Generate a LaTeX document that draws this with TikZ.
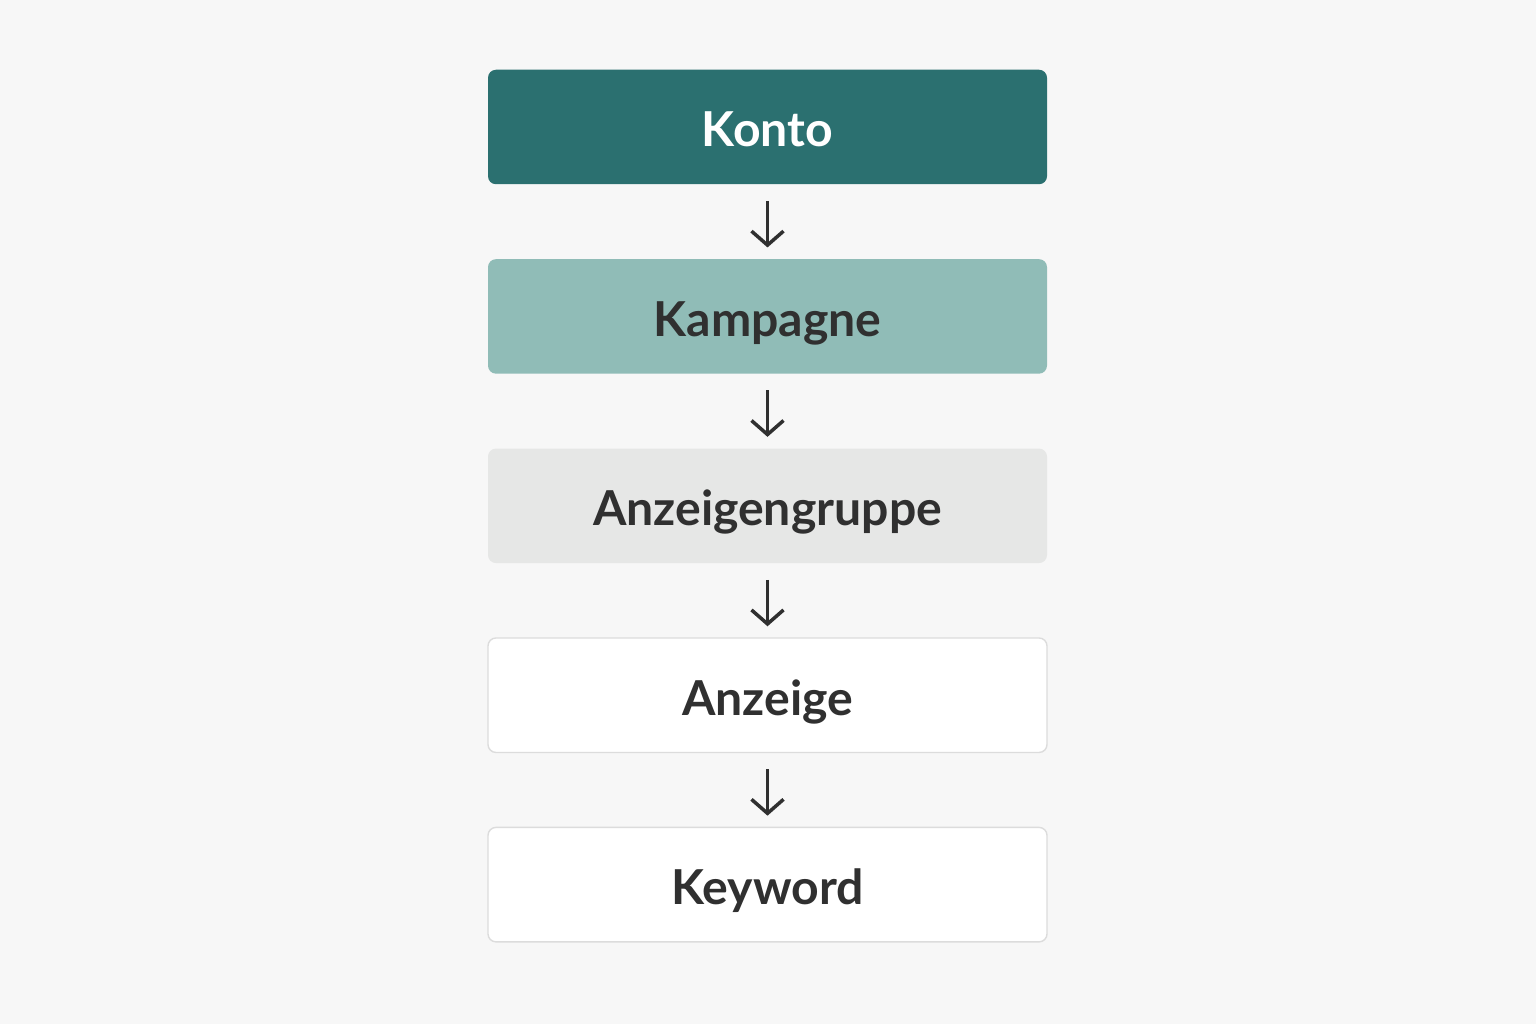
\documentclass[tikz,border=0pt]{standalone}
\usepackage{fontspec}
\setmainfont{Lato}
\usetikzlibrary{positioning,arrows.meta}

\definecolor{pagebg}{HTML}{F7F7F7}
\definecolor{kontofill}{HTML}{2B7070}
\definecolor{kampfill}{HTML}{90BCB7}
\definecolor{gruppefill}{HTML}{E6E7E6}
\definecolor{boxline}{HTML}{DCDCDC}
\definecolor{textdark}{HTML}{303030}

\tikzset{
  level/.style = {shape = rectangle, rounded corners = 0.08cm, minimum width = 5.59cm,
                  minimum height = 1.145cm, font = \fontsize{13.7}{16}\selectfont\bfseries,
                  text height = 0.4cm, text depth = 0cm, text = textdark},
  down/.style = {draw = textdark, line width = 0.035cm,
                 -{Straight Barb[length=0.14cm, width=0.32cm, line width=0.035cm]},
                 shorten <= 0.16cm, shorten >= 0.11cm}
}

\begin{document}
\begin{tikzpicture}[node distance = 0.735cm]
\fill[pagebg] (0,0) rectangle (15.36,10.24);
\useasboundingbox (0,0) rectangle (15.36,10.24);
\node[level, fill = kontofill, text = white] (konto) at (7.675,8.97) {Konto};
\node[level, fill = kampfill, below = of konto] (kampagne) {Kampagne};
\node[level, fill = gruppefill, below = of kampagne] (gruppe) {Anzeigengruppe};
\node[level, fill = white, draw = boxline, below = of gruppe] (anzeige) {Anzeige};
\node[level, fill = white, draw = boxline, below = of anzeige] (keyword) {Keyword};
\draw[down] (konto)    -- (kampagne);
\draw[down] (kampagne) -- (gruppe);
\draw[down] (gruppe)   -- (anzeige);
\draw[down] (anzeige)  -- (keyword);
\end{tikzpicture}
\end{document}
